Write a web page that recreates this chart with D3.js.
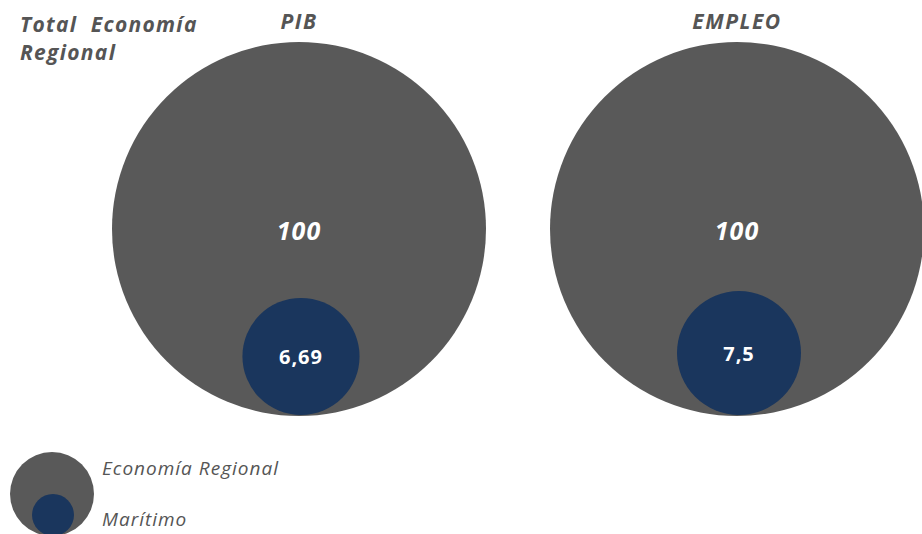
<!DOCTYPE html>
<html>
<head>
<meta charset="utf-8">
<script src="https://cdn.jsdelivr.net/npm/d3@7"></script>
<style>
  body { margin: 0; background: #fff; }
  text { font-family: "Open Sans", sans-serif; }
</style>
</head>
<body>
<script>
// data
var categories = ["PIB", "EMPLEO"];
var totalValues = [100, 100];
var maritimeValues = [6.69, 7.5];
var maritimeLabels = ["6,69", "7,5"];
var legendLabels = ["Economía Regional", "Marítimo"];

var width = 922, height = 534;
var svg = d3.select("body").append("svg")
  .attr("width", width)
  .attr("height", height);

var x = d3.scalePoint().domain(categories).range([299, 737]);
var bigR = d3.scaleSqrt().domain([0, 100]).range([0, 187]);
var smallR = d3.scaleSqrt().domain([0, 7.5]).range([0, 62]);
var cy = 229;

var rows = categories.map(function(c, i) {
  return {cat: c, total: totalValues[i], mar: maritimeValues[i], lab: maritimeLabels[i]};
});

var g = svg.selectAll("g.bubble").data(rows).enter().append("g").attr("class", "bubble");

g.append("circle")
  .attr("cx", function(d) { return x(d.cat); })
  .attr("cy", cy)
  .attr("r", function(d) { return bigR(d.total); })
  .attr("fill", "#595959");

g.append("circle")
  .attr("cx", function(d) { return x(d.cat) + 2; })
  .attr("cy", function(d) { return cy + bigR(d.total) - smallR(d.mar) - 1; })
  .attr("r", function(d) { return smallR(d.mar); })
  .attr("fill", "#1a365d");

g.append("text")
  .attr("x", function(d) { return x(d.cat); })
  .attr("y", cy + 11)
  .attr("text-anchor", "middle")
  .attr("fill", "#fff")
  .style("font-size", "25px").style("font-weight", "bold").style("font-style", "italic")
  .style("letter-spacing", "1px")
  .text(function(d) { return d.total; });

g.append("text")
  .attr("x", function(d) { return x(d.cat) + 2; })
  .attr("y", function(d) { return cy + bigR(d.total) - smallR(d.mar) + 7; })
  .attr("text-anchor", "middle")
  .attr("fill", "#fff")
  .style("font-size", "20px").style("font-weight", "bold")
  .style("letter-spacing", "1px")
  .text(function(d) { return d.lab; });

g.append("text")
  .attr("x", function(d) { return x(d.cat); })
  .attr("y", 29)
  .attr("text-anchor", "middle")
  .attr("fill", "#555")
  .style("font-size", "21px").style("font-weight", "bold").style("font-style", "italic")
  .style("letter-spacing", "1.5px")
  .text(function(d) { return d.cat; });

// title
var title = svg.append("text")
  .attr("x", 20).attr("y", 32)
  .attr("fill", "#555")
  .style("white-space", "pre")
  .style("font-size", "21px").style("font-weight", "bold").style("font-style", "italic")
  .style("letter-spacing", "1.3px");
title.append("tspan").attr("x", 20).text("Total  Economía");
title.append("tspan").attr("x", 20).attr("dy", 28).text("Regional");

// legend
svg.append("circle").attr("cx", 52).attr("cy", 494).attr("r", 42).attr("fill", "#595959");
svg.append("circle").attr("cx", 53).attr("cy", 515).attr("r", 21).attr("fill", "#1a365d");
svg.selectAll("text.leg").data(legendLabels).enter().append("text")
  .attr("class", "leg")
  .attr("x", 102)
  .attr("y", function(d, i) { return i === 0 ? 475 : 526; })
  .attr("fill", "#555")
  .style("font-size", "19px").style("font-style", "italic")
  .style("letter-spacing", "1px")
  .text(function(d) { return d; });
</script>
</body>
</html>
